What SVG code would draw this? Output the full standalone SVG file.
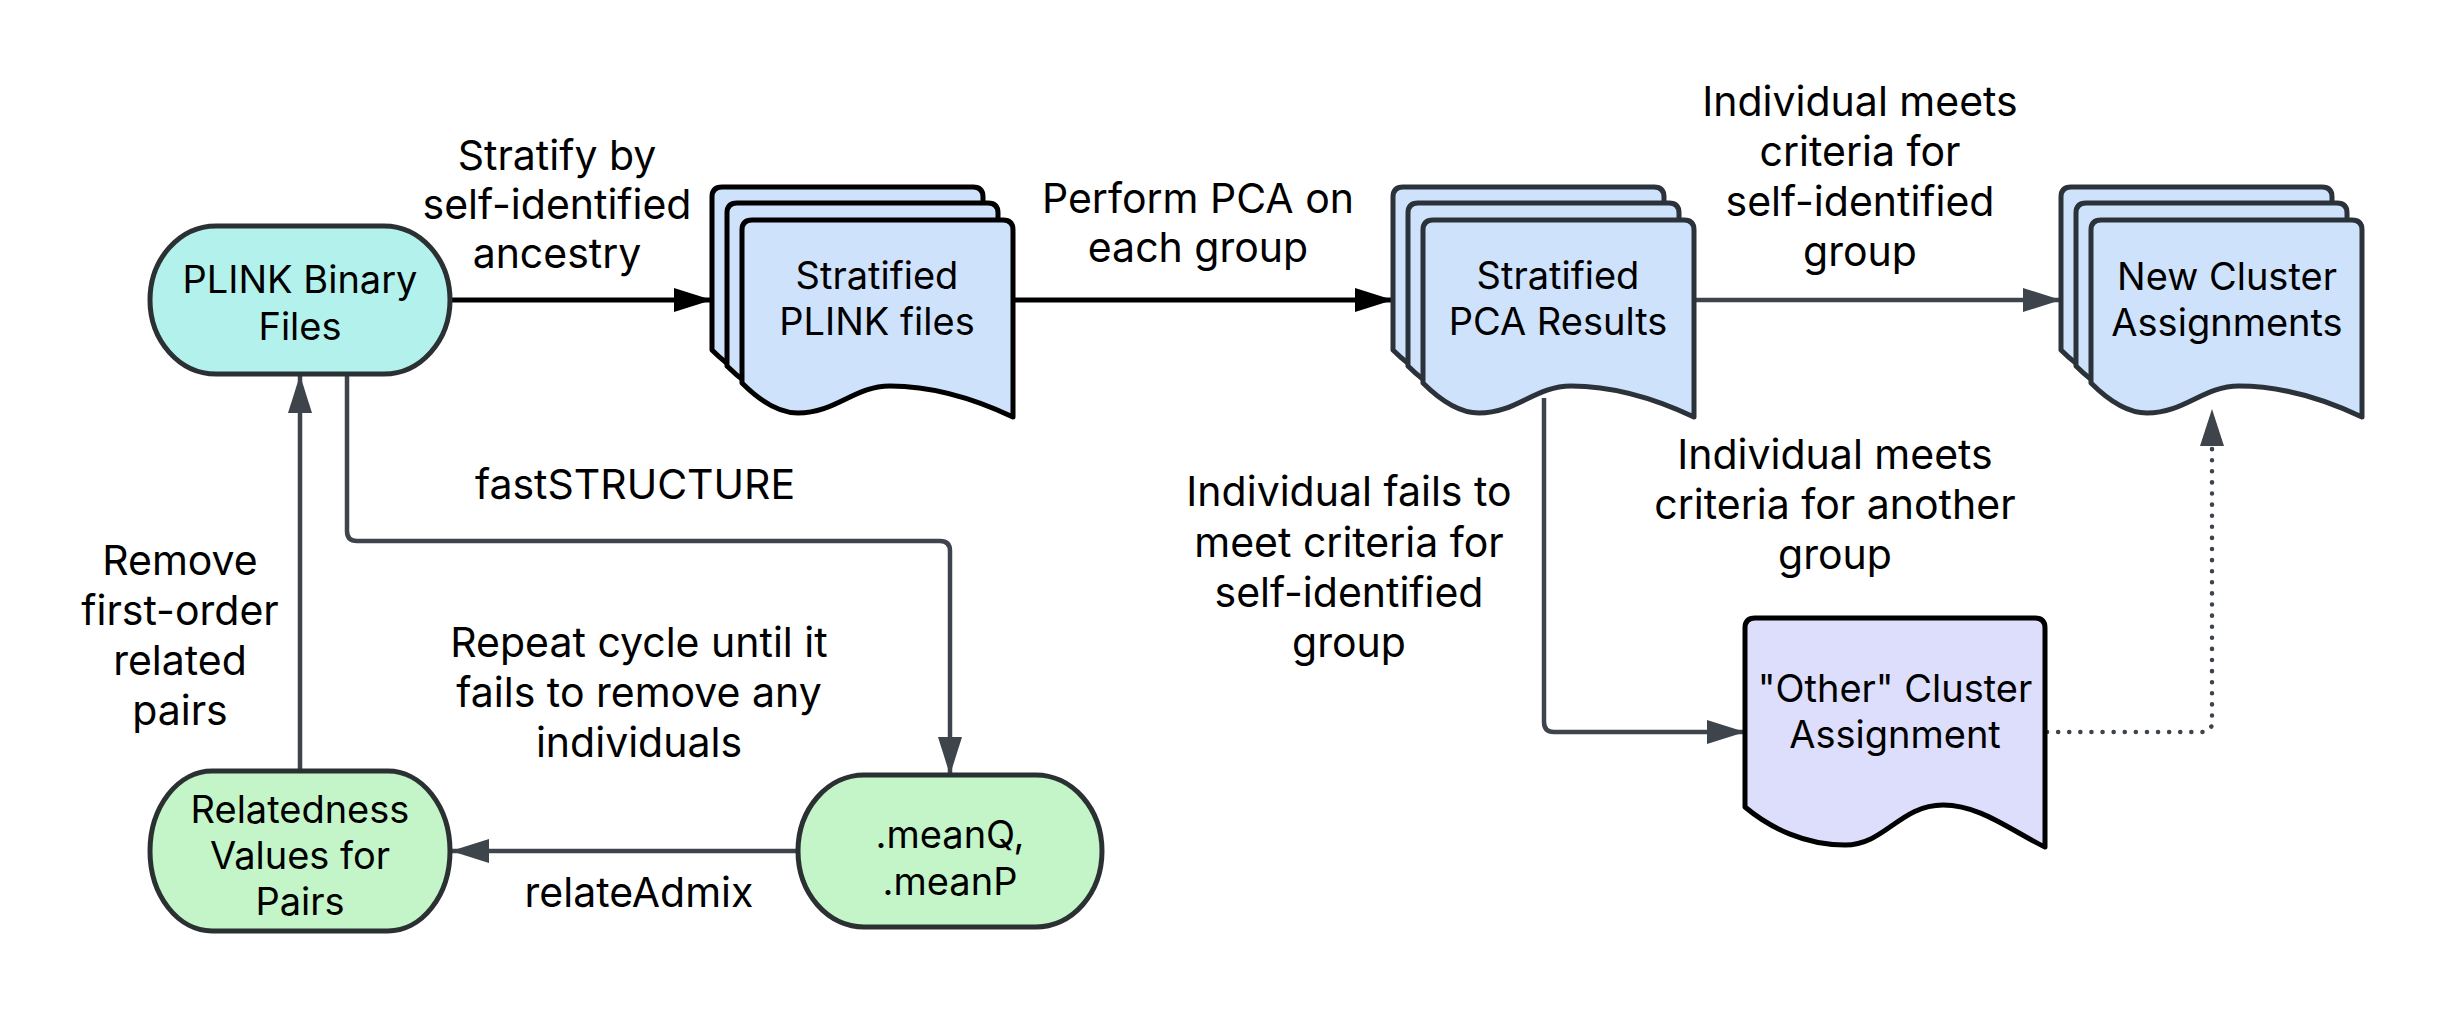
<svg xmlns="http://www.w3.org/2000/svg" xmlns:xlink="http://www.w3.org/1999/xlink" width="2438" height="1022" viewBox="0 0 2438 1022">
<style>
text{font-family:Inter,"Noto Sans","Liberation Sans",sans-serif;fill:#000;text-anchor:middle}
.nt{font-size:38px}
.lb{font-size:41px}
.term{stroke:#2b3033;stroke-width:5}
.cyan{fill:#b3f2ec}
.green{fill:#c3f5c9}
.blueK{fill:#cfe2fc;stroke:#000;stroke-width:5;stroke-linejoin:round}
.blueG{fill:#cfe2fc;stroke:#2c323a;stroke-width:5;stroke-linejoin:round}
.purp{fill:#dcdefb;stroke:#000;stroke-width:5;stroke-linejoin:round}
.ck{fill:none;stroke:#000;stroke-width:5}
.cg{fill:none;stroke:#3e444c;stroke-width:4.5}
.cd{fill:none;stroke:#3e444c;stroke-width:4.5;stroke-dasharray:0.1 11;stroke-linecap:round}
</style>
<defs>
<path id="docS" d="M0,163 V10 Q0,0 10,0 H261 Q271,0 271,10 V197 C235,180 191,166 148,166 C112,166 94,193 56,193 C36,193 18,181 0,163 Z"/>
<path id="docO" d="M0,189 V10 Q0,0 10,0 H290 Q300,0 300,10 V229 C265,212 235,187 198,187 C155,187 140,227 100,227 C60,227 25,210 0,189 Z"/>
<marker id="ak" markerUnits="userSpaceOnUse" markerWidth="38" markerHeight="24" refX="38" refY="12" orient="auto"><path d="M0,0 L38,12 L0,24 Z" fill="#000"/></marker>
<marker id="ag" markerUnits="userSpaceOnUse" markerWidth="38" markerHeight="24" refX="38" refY="12" orient="auto"><path d="M0,0 L38,12 L0,24 Z" fill="#3e444c"/></marker>
</defs>

<g id="connectors">
<path class="ck" d="M451,300 H712" marker-end="url(#ak)"/>
<path class="ck" d="M1013,300 H1393" marker-end="url(#ak)"/>
<path class="cg" d="M1694,300 H2061" marker-end="url(#ag)"/>
<path class="cg" d="M347,374 V531 Q347,541 357,541 H940 Q950,541 950,551 V775" marker-end="url(#ag)"/>
<path class="cg" d="M300,771 V375" marker-end="url(#ag)"/>
<path class="cg" d="M798,851 H451" marker-end="url(#ag)"/>
<path class="cg" d="M1544,398 V722 Q1544,732 1554,732 H1745" marker-end="url(#ag)"/>
<path class="cd" d="M2047,732 H2202 Q2212,732 2212,722 V446"/>
<path d="M2200,446 L2212,409 L2224,446 Z" fill="#3e444c"/>
</g>

<g id="labels">
<text class="lb"><tspan x="557" y="170">Stratify by</tspan><tspan x="557" y="219">self-identified</tspan><tspan x="557" y="268">ancestry</tspan></text>
<text class="lb"><tspan x="1198" y="213">Perform PCA on</tspan><tspan x="1198" y="262">each group</tspan></text>
<text class="lb"><tspan x="1860" y="116">Individual meets</tspan><tspan x="1860" y="166">criteria for</tspan><tspan x="1860" y="216">self-identified</tspan><tspan x="1860" y="266">group</tspan></text>
<text class="lb" x="635" y="499">fastSTRUCTURE</text>
<text class="lb"><tspan x="180" y="575">Remove</tspan><tspan x="180" y="625">first-order</tspan><tspan x="180" y="675">related</tspan><tspan x="180" y="725">pairs</tspan></text>
<text class="lb"><tspan x="639" y="657">Repeat cycle until it</tspan><tspan x="639" y="707">fails to remove any</tspan><tspan x="639" y="757">individuals</tspan></text>
<text class="lb" x="639" y="907">relateAdmix</text>
<text class="lb"><tspan x="1349" y="506">Individual fails to</tspan><tspan x="1349" y="557">meet criteria for</tspan><tspan x="1349" y="607">self-identified</tspan><tspan x="1349" y="657">group</tspan></text>
<text class="lb"><tspan x="1835" y="469">Individual meets</tspan><tspan x="1835" y="519">criteria for another</tspan><tspan x="1835" y="569">group</tspan></text>
</g>

<g id="plink-binary">
<rect class="term cyan" x="150" y="226" width="300" height="148" rx="66" ry="74"/>
<text class="nt"><tspan x="300" y="293">PLINK Binary</tspan><tspan x="300" y="340">Files</tspan></text>
</g>

<g id="stratified-plink">
<use xlink:href="#docS" x="712" y="187" class="blueK"/>
<use xlink:href="#docS" x="727" y="203" class="blueK"/>
<use xlink:href="#docS" x="742" y="220" class="blueK"/>
<text class="nt"><tspan x="877" y="289">Stratified</tspan><tspan x="877" y="335">PLINK files</tspan></text>
</g>

<g id="stratified-pca">
<use xlink:href="#docS" x="1393" y="187" class="blueG"/>
<use xlink:href="#docS" x="1408" y="203" class="blueG"/>
<use xlink:href="#docS" x="1423" y="220" class="blueG"/>
<text class="nt"><tspan x="1558" y="289">Stratified</tspan><tspan x="1558" y="335">PCA Results</tspan></text>
</g>

<g id="new-cluster">
<use xlink:href="#docS" x="2061" y="187" class="blueG"/>
<use xlink:href="#docS" x="2076" y="203" class="blueG"/>
<use xlink:href="#docS" x="2091" y="220" class="blueG"/>
<text class="nt"><tspan x="2227" y="290">New Cluster</tspan><tspan x="2227" y="336">Assignments</tspan></text>
</g>

<g id="other-cluster">
<use xlink:href="#docO" x="1745" y="618" class="purp"/>
<text class="nt"><tspan x="1895" y="702">"Other" Cluster</tspan><tspan x="1895" y="748">Assignment</tspan></text>
</g>

<g id="relatedness">
<rect class="term green" x="150" y="771" width="300" height="160" rx="62" ry="80"/>
<text class="nt"><tspan x="300" y="823">Relatedness</tspan><tspan x="300" y="869">Values for</tspan><tspan x="300" y="915">Pairs</tspan></text>
</g>

<g id="meanq">
<rect class="term green" x="798" y="775" width="304" height="152" rx="66" ry="76"/>
<text class="nt"><tspan x="950" y="848">.meanQ,</tspan><tspan x="950" y="895">.meanP</tspan></text>
</g>
</svg>
